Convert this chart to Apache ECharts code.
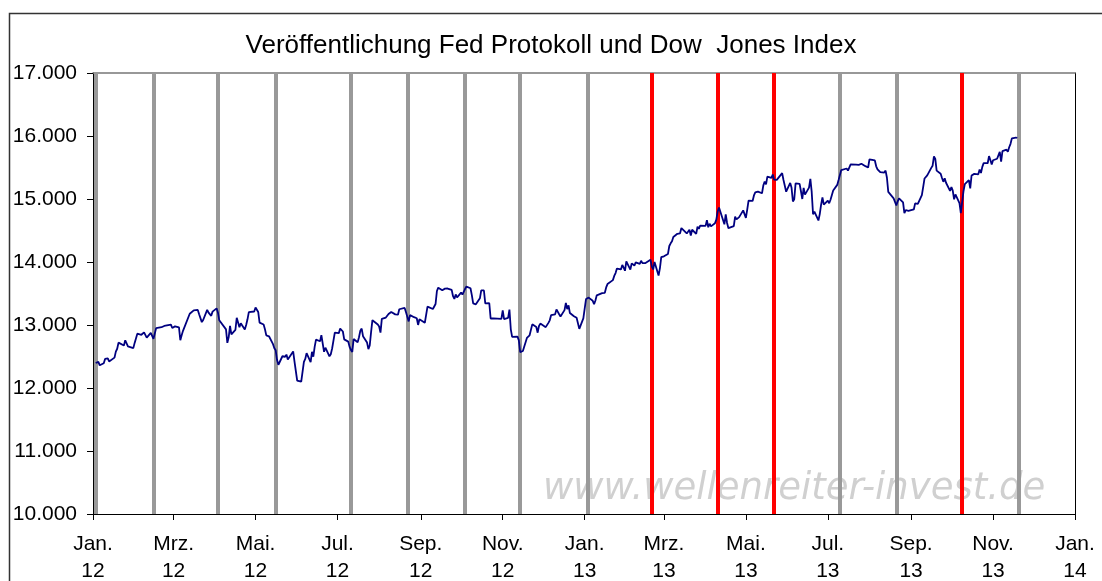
<!DOCTYPE html>
<html>
<head>
<meta charset="utf-8">
<script src="https://cdn.jsdelivr.net/npm/echarts@6/dist/echarts.min.js"></script>
<style>
html,body{margin:0;padding:0;background:#fff;}
#chart{width:1102px;height:581px;}
</style>
</head>
<body>
<div id="chart"></div>
<script>
// ---- data ----
const dates = [
'2012-01-03','2012-01-04','2012-01-05','2012-01-06','2012-01-09','2012-01-10','2012-01-12','2012-01-13','2012-01-17','2012-01-18','2012-01-19','2012-01-20','2012-01-24','2012-01-25','2012-01-26','2012-01-27','2012-01-31',
'2012-02-01','2012-02-03','2012-02-06','2012-02-08','2012-02-09','2012-02-10','2012-02-13','2012-02-14','2012-02-15','2012-02-17','2012-02-21','2012-02-23','2012-02-24','2012-02-28','2012-02-29',
'2012-03-01','2012-03-02','2012-03-05','2012-03-06','2012-03-07','2012-03-08','2012-03-09','2012-03-13','2012-03-14','2012-03-16','2012-03-19','2012-03-20','2012-03-22','2012-03-23','2012-03-26','2012-03-27','2012-03-29','2012-03-30',
'2012-04-02','2012-04-03','2012-04-04','2012-04-05','2012-04-09','2012-04-10','2012-04-11','2012-04-12','2012-04-13','2012-04-16','2012-04-17','2012-04-19','2012-04-20','2012-04-23','2012-04-24','2012-04-25','2012-04-26','2012-04-27','2012-04-30',
'2012-05-01','2012-05-02','2012-05-03','2012-05-04','2012-05-07','2012-05-08','2012-05-09','2012-05-10','2012-05-11','2012-05-14','2012-05-15','2012-05-16','2012-05-17','2012-05-18','2012-05-21','2012-05-22','2012-05-23','2012-05-24','2012-05-25','2012-05-29','2012-05-30','2012-05-31',
'2012-06-01','2012-06-04','2012-06-05','2012-06-06','2012-06-07','2012-06-08','2012-06-11','2012-06-12','2012-06-13','2012-06-14','2012-06-15','2012-06-18','2012-06-19','2012-06-20','2012-06-21','2012-06-22','2012-06-25','2012-06-26','2012-06-27','2012-06-28','2012-06-29',
'2012-07-02','2012-07-03','2012-07-05','2012-07-06','2012-07-09','2012-07-10','2012-07-11','2012-07-12','2012-07-13','2012-07-16','2012-07-17','2012-07-18','2012-07-19','2012-07-20','2012-07-23','2012-07-24','2012-07-25','2012-07-26','2012-07-27','2012-07-31',
'2012-08-01','2012-08-02','2012-08-03','2012-08-06','2012-08-08','2012-08-10','2012-08-13','2012-08-15','2012-08-16','2012-08-17','2012-08-20','2012-08-21','2012-08-22','2012-08-23','2012-08-24','2012-08-27','2012-08-29','2012-08-30','2012-08-31',
'2012-09-04','2012-09-05','2012-09-06','2012-09-07','2012-09-10','2012-09-12','2012-09-13','2012-09-14','2012-09-17','2012-09-18','2012-09-19','2012-09-20','2012-09-21','2012-09-24','2012-09-25','2012-09-26','2012-09-27','2012-09-28',
'2012-10-01','2012-10-02','2012-10-04','2012-10-05','2012-10-08','2012-10-09','2012-10-10','2012-10-11','2012-10-12','2012-10-15','2012-10-16','2012-10-17','2012-10-18','2012-10-19','2012-10-22','2012-10-23','2012-10-24','2012-10-25','2012-10-26','2012-10-31',
'2012-11-01','2012-11-02','2012-11-05','2012-11-06','2012-11-07','2012-11-08','2012-11-09','2012-11-12','2012-11-13','2012-11-14','2012-11-15','2012-11-16','2012-11-19','2012-11-20','2012-11-21','2012-11-23','2012-11-26','2012-11-27','2012-11-28','2012-11-29','2012-11-30',
'2012-12-03','2012-12-04','2012-12-05','2012-12-06','2012-12-07','2012-12-10','2012-12-11','2012-12-12','2012-12-13','2012-12-14','2012-12-17','2012-12-18','2012-12-19','2012-12-20','2012-12-21','2012-12-24','2012-12-26','2012-12-27','2012-12-28','2012-12-31',
'2013-01-02','2013-01-03','2013-01-04','2013-01-07','2013-01-08','2013-01-09','2013-01-10','2013-01-11','2013-01-14','2013-01-15','2013-01-16','2013-01-17','2013-01-18','2013-01-22','2013-01-23','2013-01-24','2013-01-25','2013-01-28','2013-01-29','2013-01-30','2013-01-31',
'2013-02-01','2013-02-04','2013-02-05','2013-02-06','2013-02-07','2013-02-08','2013-02-11','2013-02-12','2013-02-13','2013-02-14','2013-02-15','2013-02-19','2013-02-20','2013-02-21','2013-02-22','2013-02-25','2013-02-26','2013-02-27','2013-02-28',
'2013-03-01','2013-03-04','2013-03-05','2013-03-06','2013-03-07','2013-03-08','2013-03-11','2013-03-12','2013-03-13','2013-03-14','2013-03-15','2013-03-18','2013-03-19','2013-03-20','2013-03-21','2013-03-22','2013-03-25','2013-03-26','2013-03-27','2013-03-28',
'2013-04-01','2013-04-02','2013-04-03','2013-04-04','2013-04-05','2013-04-08','2013-04-09','2013-04-10','2013-04-11','2013-04-12','2013-04-15','2013-04-16','2013-04-17','2013-04-18','2013-04-19','2013-04-22','2013-04-23','2013-04-24','2013-04-25','2013-04-26','2013-04-29','2013-04-30',
'2013-05-01','2013-05-02','2013-05-03','2013-05-06','2013-05-07','2013-05-08','2013-05-09','2013-05-10','2013-05-13','2013-05-14','2013-05-15','2013-05-16','2013-05-17','2013-05-20','2013-05-21','2013-05-22','2013-05-23','2013-05-24','2013-05-28','2013-05-29','2013-05-30','2013-05-31',
'2013-06-03','2013-06-04','2013-06-05','2013-06-06','2013-06-07','2013-06-10','2013-06-11','2013-06-12','2013-06-13','2013-06-14','2013-06-17','2013-06-18','2013-06-19','2013-06-20','2013-06-21','2013-06-24','2013-06-25','2013-06-26','2013-06-27','2013-06-28',
'2013-07-01','2013-07-02','2013-07-03','2013-07-05','2013-07-08','2013-07-09','2013-07-10','2013-07-11','2013-07-12','2013-07-15','2013-07-16','2013-07-17','2013-07-18','2013-07-19','2013-07-22','2013-07-23','2013-07-24','2013-07-25','2013-07-26','2013-07-29','2013-07-30','2013-07-31',
'2013-08-01','2013-08-02','2013-08-05','2013-08-06','2013-08-07','2013-08-08','2013-08-09','2013-08-12','2013-08-13','2013-08-14','2013-08-15','2013-08-16','2013-08-19','2013-08-20','2013-08-21','2013-08-22','2013-08-23','2013-08-26','2013-08-27','2013-08-28','2013-08-29','2013-08-30',
'2013-09-03','2013-09-04','2013-09-05','2013-09-06','2013-09-09','2013-09-10','2013-09-11','2013-09-12','2013-09-13','2013-09-16','2013-09-17','2013-09-18','2013-09-19','2013-09-20','2013-09-23','2013-09-24','2013-09-25','2013-09-26','2013-09-27','2013-09-30',
'2013-10-01','2013-10-02','2013-10-03','2013-10-04','2013-10-07','2013-10-08','2013-10-09','2013-10-10','2013-10-11','2013-10-14','2013-10-15','2013-10-16','2013-10-17','2013-10-18','2013-10-21','2013-10-22','2013-10-23','2013-10-24','2013-10-25','2013-10-28','2013-10-29','2013-10-30','2013-10-31',
'2013-11-01','2013-11-04','2013-11-05','2013-11-06','2013-11-07','2013-11-08','2013-11-11','2013-11-12','2013-11-13','2013-11-14','2013-11-15','2013-11-18','2013-11-19'
];
const dowJones = [
12397,12418,12415,12360,12393,12462,12471,12422,12482,12578,12623,12720,12675,12758,12736,12660,12633,
12716,12862,12845,12884,12890,12801,12874,12878,12781,12950,12965,12985,12983,13005,12952,
12980,12978,12962,12759,12837,12907,12922,13178,13194,13233,13239,13171,13046,13080,13241,13197,13146,13212,
13264,13199,13074,13060,12930,12716,12805,12986,12850,12921,13115,12964,13029,12928,12999,13090,13204,13228,13214,
13279,13268,13206,13038,13008,12932,12835,12855,12821,12695,12632,12598,12443,12369,12504,12502,12496,12530,12454,12580,12419,12393,
12118,12101,12127,12414,12461,12554,12411,12574,12497,12652,12767,12742,12837,12824,12574,12640,12502,12535,12627,12602,12880,
12871,12943,12897,12772,12736,12653,12605,12573,12777,12727,12805,12909,12943,12823,12721,12618,12676,12888,13076,13009,
12977,12879,13096,13118,13175,13207,13169,13164,13250,13275,13271,13204,13173,13057,13157,13124,13107,13001,13090,
13035,13047,13292,13306,13254,13333,13539,13593,13553,13565,13577,13596,13579,13558,13457,13413,13485,13437,
13515,13482,13575,13610,13583,13473,13344,13326,13328,13424,13551,13557,13548,13343,13345,13103,13077,13104,13107,13096,
13232,13093,13112,13245,12932,12811,12815,12815,12756,12570,12542,12588,12795,12789,12837,13010,12967,12878,12985,13022,13026,
12966,12952,13034,13074,13155,13169,13248,13245,13171,13135,13236,13351,13252,13312,13190,13139,13114,13096,12938,13104,
13412,13391,13435,13384,13329,13390,13471,13488,13507,13534,13511,13596,13650,13712,13779,13825,13896,13882,13954,13910,13861,
14010,13880,13979,13986,13944,13993,13971,14019,13982,13973,13981,14035,13928,13881,14001,13784,13900,14076,14054,
14090,14128,14254,14296,14329,14397,14448,14450,14455,14539,14515,14453,14456,14511,14421,14512,14447,14560,14527,14579,
14573,14662,14551,14607,14565,14614,14673,14802,14865,14865,14599,14757,14619,14537,14547,14568,14720,14677,14701,14712,14819,14840,
14700,14831,14974,14969,15056,15105,15083,15118,15091,15216,15275,15233,15354,15335,15388,15307,15295,15303,15410,15302,15324,15116,
15255,15177,14961,14996,15248,15239,15123,15000,15177,15070,15180,15318,15112,14758,14800,14659,14760,14910,15024,14910,
14975,14932,14988,15135,15224,15300,15291,15460,15464,15484,15452,15470,15548,15544,15545,15567,15542,15555,15559,15521,15520,15500,
15628,15658,15612,15519,15471,15498,15425,15419,15451,15337,15112,15081,15010,15002,14897,14963,15010,14946,14776,14825,14840,14810,
14834,14930,14938,14922,15063,15191,15326,15300,15376,15494,15529,15676,15636,15451,15401,15334,15273,15328,15258,15129,
15191,15133,14996,15072,14936,14776,14802,15126,15237,15301,15168,15373,15371,15399,15392,15467,15413,15510,15570,15568,15680,15618,15546,
15615,15639,15618,15747,15594,15761,15783,15751,15822,15876,15962,15976,15968
];
// Fed minutes release dates
const fedGray = ['2012-01-03','2012-02-15','2012-04-03','2012-05-16','2012-07-11','2012-08-22','2012-10-04','2012-11-14','2013-01-03','2013-07-10','2013-08-21','2013-11-20'];
const fedRed = ['2013-02-20','2013-04-10','2013-05-22','2013-10-09'];
// x tick positions and labels
const tickDates = ['2012-01-01','2012-03-01','2012-05-01','2012-07-01','2012-09-01','2012-11-01','2013-01-01','2013-03-01','2013-05-01','2013-07-01','2013-09-01','2013-11-01','2014-01-01'];
const tickLabels = ['Jan.\n12','Mrz.\n12','Mai.\n12','Jul.\n12','Sep.\n12','Nov.\n12','Jan.\n13','Mrz.\n13','Mai.\n13','Jul.\n13','Sep.\n13','Nov.\n13','Jan.\n14'];
const yMin = 10000, yMax = 17000, yStep = 1000;

// ---- chart ----
function ts(s){ const p = s.split('-'); return Date.UTC(+p[0], +p[1]-1, +p[2]); }
const tickTs = tickDates.map(ts);
const FONT = '"Liberation Sans", Arial, sans-serif';

const chart = echarts.init(document.getElementById('chart'), null, {renderer:'canvas'});
const option = {
  animation: false,
  backgroundColor: '#ffffff',
  title: {
    text: 'Veröffentlichung Fed Protokoll und Dow  Jones Index',
    left: 'center', top: 28,
    textStyle: {fontFamily: FONT, fontSize: 26, fontWeight: 'normal', color: '#000'}
  },
  graphic: [
    {type:'rect', left:7, top:11, shape:{width:1200, height:700}, style:{fill:'none', stroke:'#333', lineWidth:1.5}, z:-10},
    {type:'text', left:543, top:471, style:{text:'www.wellenreiter-invest.de', font:'italic 37px "DejaVu Sans", sans-serif', fill:'#d0d0d0'}, z:0}
  ],
  grid: {left: 93, right: 27, top: 73, bottom: 67, containLabel: false, outerBoundsMode: 'none'},
  xAxis: [{
    type: 'value',
    min: tickTs[0], max: tickTs[tickTs.length-1],
    axisLine: {show: true, onZero: false, lineStyle: {color: '#000', width: 1}},
    axisTick: {show: true, length: 6, lineStyle: {color:'#000'}, customValues: tickTs},
    axisLabel: {
      customValues: tickTs,
      color: '#000', fontFamily: FONT, fontSize: 21, lineHeight: 27, margin: 17,
      formatter: function(v){ const i = tickTs.indexOf(+v); return i >= 0 ? tickLabels[i] : ''; }
    },
    splitLine: {show: false}
  },{
    type: 'value', position: 'top',
    min: tickTs[0], max: tickTs[tickTs.length-1],
    axisLine: {show: true, onZero: false, lineStyle: {color: '#777', width: 1.5}},
    axisTick: {show:false}, axisLabel: {show:false}, splitLine: {show:false}
  }],
  yAxis: [{
    type: 'value', min: yMin, max: yMax, interval: yStep,
    axisLine: {show: true, onZero: false, lineStyle: {color: '#000', width: 1}},
    axisTick: {show: true, length: 6, lineStyle: {color:'#000'}},
    axisLabel: {
      color: '#000', fontFamily: FONT, fontSize: 21, margin: 16,
      formatter: function(v){ return String(v).replace(/\B(?=(\d{3})+(?!\d))/g, '.'); }
    },
    splitLine: {show: false}
  },{
    type: 'value', position: 'right', min: yMin, max: yMax, interval: yStep,
    axisLine: {show: true, onZero: false, lineStyle: {color: '#000', width: 1}},
    axisTick: {show:false}, axisLabel: {show:false}, splitLine: {show:false}
  }],
  series: [
    {
      type: 'line', name: 'fedGray', data: [], z: 1, silent: true,
      markLine: {
        silent: true, symbol: ['none','none'], label: {show:false}, animation: false,
        lineStyle: {type: 'solid', color: '#999999', width: 4},
        data: fedGray.map(d => ({xAxis: ts(d)}))
      }
    },
    {
      type: 'line', name: 'fedRed', data: [], z: 2, silent: true,
      markLine: {
        silent: true, symbol: ['none','none'], label: {show:false}, animation: false,
        lineStyle: {type: 'solid', color: '#ff0000', width: 4},
        data: fedRed.map(d => ({xAxis: ts(d)}))
      }
    },
    {
      type: 'line', name: 'Dow Jones', z: 5,
      data: dates.map((d, i) => [ts(d), dowJones[i]]),
      showSymbol: false, symbol: 'none',
      lineStyle: {color: '#000080', width: 1.8},
      emphasis: {disabled: true}
    }
  ]
};
chart.setOption(option);
</script>
</body>
</html>
